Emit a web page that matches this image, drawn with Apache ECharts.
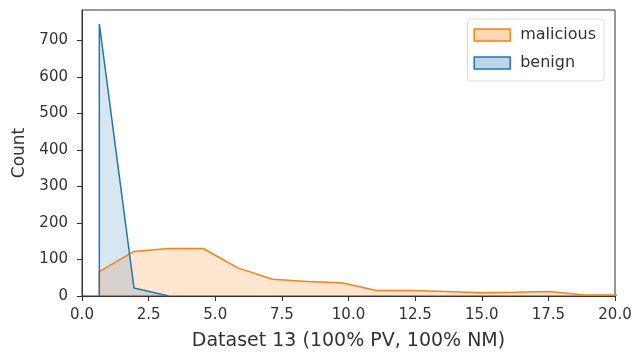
<!DOCTYPE html>
<html>
<head>
<meta charset="utf-8">
<script src="https://cdn.jsdelivr.net/npm/echarts@6/dist/echarts.min.js"></script>
<style>
  html, body { margin: 0; padding: 0; background: #fff; }
  #chart { width: 633px; height: 354px; }
</style>
</head>
<body>
<div id="chart"></div>
<script>
// bin centres (histogram polygon vertices)
const binCenters = [0.65, 1.95, 3.25, 4.55, 5.85, 7.15, 8.45, 9.75, 11.05, 12.35, 13.65, 14.95, 16.25, 17.55, 18.85, 20.15];
const malicious = [67, 122, 130, 130, 77, 46, 40, 36, 15, 15, 12, 9, 10, 12, 3, 3];
const benign = [745, 22, 0];
const xTicks = ["0.0", "2.5", "5.0", "7.5", "10.0", "12.5", "15.0", "17.5", "20.0"];

const FONT = "DejaVu Sans";

// 折线顶点：起点先落到 0，做出竖直边
function toPoly(values) {
  let pts = [[binCenters[0], 0]];
  values.forEach((v, i) => pts.push([binCenters[i], v]));
  return pts;
}

const chart = echarts.init(document.getElementById("chart"));
const option = {
  animation: false,
  grid: {
    left: 82, right: 18, top: 10, bottom: 58,
    outerBoundsMode: "none", containLabel: false,
    show: true, borderColor: "#333", borderWidth: 1
  },
  legend: {
    orient: "vertical",
    right: 29, top: 19,
    itemWidth: 36, itemHeight: 12, itemGap: 12,
    padding: [8, 8, 10, 6],
    borderColor: "#ddd", borderWidth: 1, borderRadius: 3,
    textStyle: { fontFamily: FONT, fontSize: 16, color: "#333", padding: [0, 0, 0, 5] },
    data: [
      { name: "malicious", icon: "rect",
        itemStyle: { color: "rgba(255,127,14,0.3)", borderColor: "#ff7f0e", borderWidth: 1.5 } },
      { name: "benign", icon: "rect",
        itemStyle: { color: "rgba(31,119,180,0.3)", borderColor: "#1f77b4", borderWidth: 1.5 } }
    ]
  },
  xAxis: {
    type: "value", min: 0, max: 20, interval: 2.5,
    name: "Dataset 13 (100% PV, 100% NM)",
    nameLocation: "middle", nameGap: 36,
    nameTextStyle: { fontFamily: FONT, fontSize: 19, color: "#333" },
    axisLine: { show: true, onZero: false, lineStyle: { color: "#333" } },
    axisTick: { show: true, length: 5, lineStyle: { color: "#333" } },
    axisLabel: {
      fontFamily: FONT, fontSize: 15, color: "#333", margin: 12,
      formatter: v => xTicks[Math.round(v / 2.5)]
    },
    splitLine: { show: false }
  },
  yAxis: {
    type: "value", min: 0, max: 783, interval: 100,
    name: "Count",
    nameLocation: "middle", nameGap: 54, nameRotate: 90,
    nameTextStyle: { fontFamily: FONT, fontSize: 17, color: "#333" },
    axisLine: { show: true, lineStyle: { color: "#333" } },
    axisTick: { show: true, length: 5, lineStyle: { color: "#333" } },
    axisLabel: { fontFamily: FONT, fontSize: 15, color: "#333", margin: 14, showMaxLabel: false },
    splitLine: { show: false }
  },
  series: [
    {
      name: "malicious", type: "line", data: toPoly(malicious),
      showSymbol: false, symbol: "none",
      lineStyle: { color: "#ff7f0e", width: 1.5 },
      itemStyle: { color: "#ff7f0e" },
      areaStyle: { color: "rgba(255,127,14,0.28)", origin: 0 }
    },
    {
      name: "benign", type: "line", data: toPoly(benign),
      showSymbol: false, symbol: "none",
      lineStyle: { color: "#1f77b4", width: 1.5 },
      itemStyle: { color: "#1f77b4" },
      areaStyle: { color: "rgba(31,119,180,0.25)", origin: 0 }
    }
  ]
};
chart.setOption(option);
</script>
</body>
</html>
